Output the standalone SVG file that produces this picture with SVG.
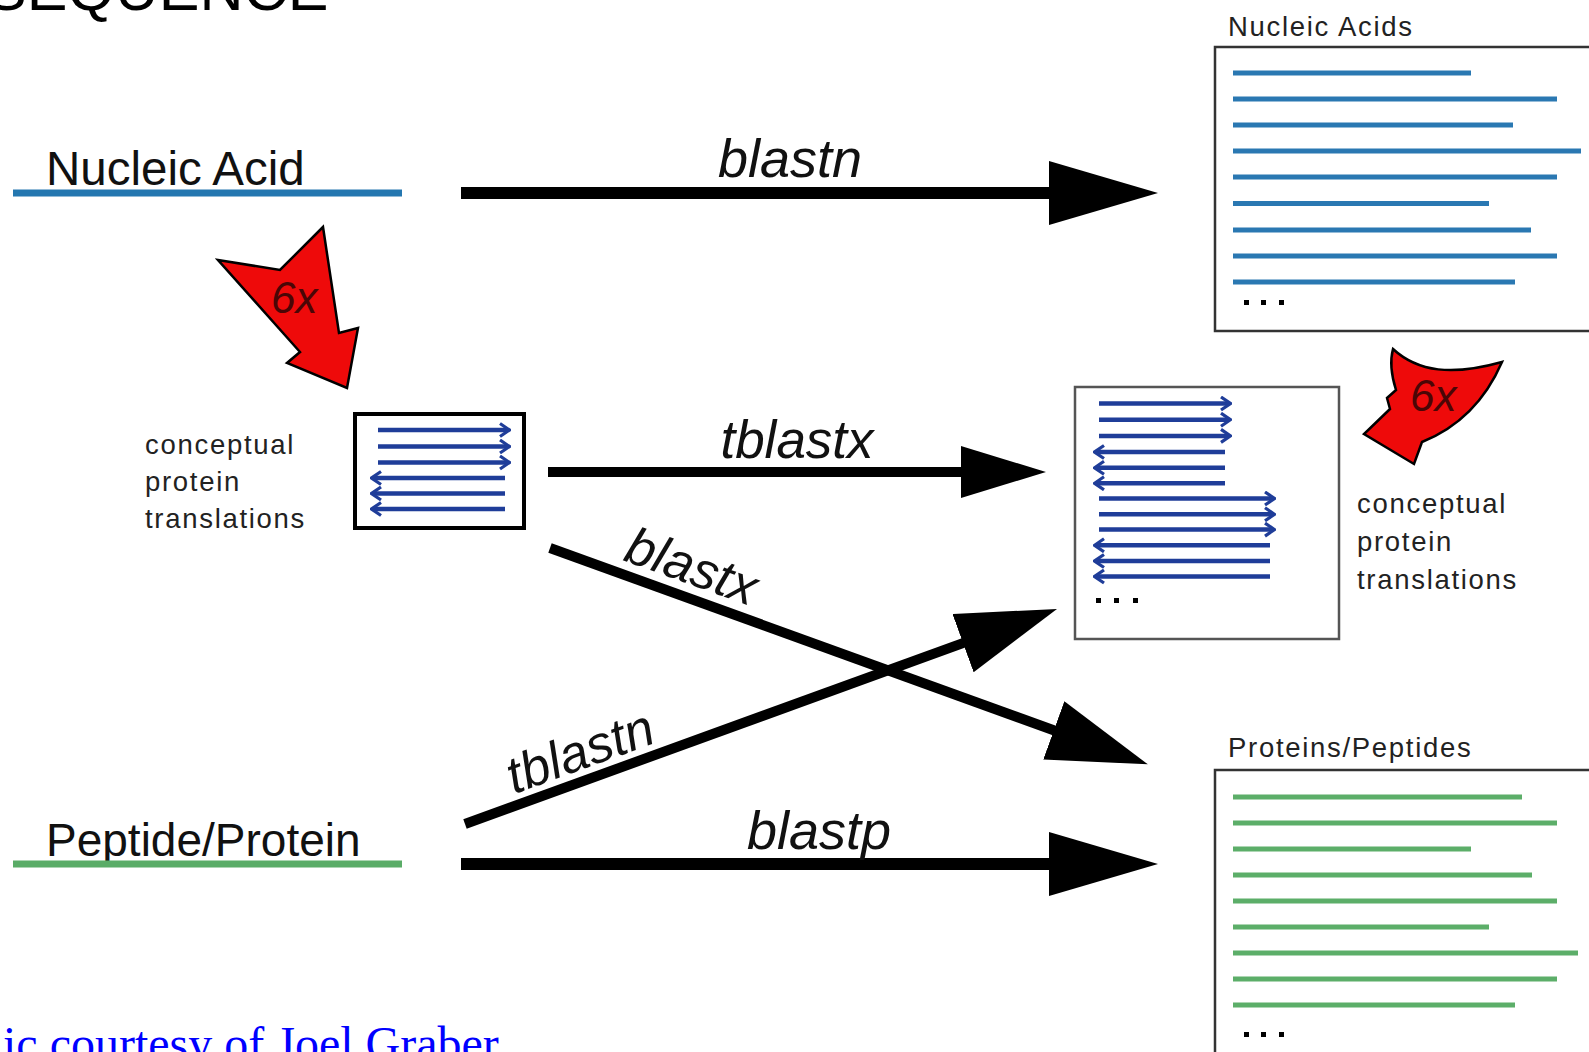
<svg xmlns="http://www.w3.org/2000/svg" width="1589" height="1052" viewBox="0 0 1589 1052">
<defs>
<style>
.big{font-family:"Liberation Sans",Arial,sans-serif;font-size:46px;fill:#111}
.lbl{font-family:"Liberation Sans",Arial,sans-serif;font-style:italic;fill:#111}
.sm{font-family:"Liberation Sans",Arial,sans-serif;font-size:27.5px;letter-spacing:1.7px;fill:#222}
.six{font-family:"Liberation Sans",Arial,sans-serif;font-style:italic;fill:#4a0606}
.conn{stroke:#000;fill:none;stroke-linecap:butt}
.na{stroke:#2a78b2;stroke-width:5}
.pp{stroke:#5cae69;stroke-width:5}
.tr{stroke:#1f3d99;stroke-width:4.5;marker-end:url(#chev)}
.red{fill:#ee0a0a;stroke:#000;stroke-width:2.5;stroke-linejoin:miter}
.dot{fill:#000}
</style>
<marker id="headL" viewBox="0 0 109 64" refX="5" refY="32" markerWidth="109" markerHeight="64" markerUnits="userSpaceOnUse" orient="auto">
<path d="M0,0 L109,32 L0,64 Z" fill="#000"/>
</marker>
<marker id="headM" viewBox="0 0 100 62" refX="5" refY="31" markerWidth="100" markerHeight="62" markerUnits="userSpaceOnUse" orient="auto">
<path d="M0,0 L100,31 L0,62 Z" fill="#000"/>
</marker>
<marker id="headS" viewBox="0 0 85 52" refX="5" refY="26" markerWidth="85" markerHeight="52" markerUnits="userSpaceOnUse" orient="auto">
<path d="M0,0 L85,26 L0,52 Z" fill="#000"/>
</marker>
<marker id="chev" viewBox="0 0 12 16" refX="9" refY="8" markerWidth="12" markerHeight="16" markerUnits="userSpaceOnUse" orient="auto">
<path d="M1,1.5 L10.5,8 L1,14.5" fill="none" stroke="#1f3d99" stroke-width="3.2"/>
</marker>
</defs>
<rect width="1589" height="1052" fill="#fff"/>

<text x="-14" y="10" font-family="Liberation Sans,Arial,sans-serif" font-size="61" fill="#000">SEQUENCE</text>

<g id="nucleic-acid">
<text class="big" x="46" y="185" font-size="47.5" style="font-size:47.5px">Nucleic Acid</text>
<line x1="13" y1="193" x2="402" y2="193" stroke="#2477b0" stroke-width="7"/>
</g>

<g id="peptide-protein">
<text class="big" x="46" y="856">Peptide/Protein</text>
<line x1="13" y1="864" x2="402" y2="864" stroke="#5aac67" stroke-width="7"/>
</g>

<g id="red-arrow-left">
<path class="red" d="M218,260 L280,270 L323,227 L339,333 L358,328 L347,388 L287,363 L300,352 Z"/>
<text class="six" x="271" y="313" font-size="44">6x</text>
</g>

<g id="translations-left">
<rect x="355" y="414" width="169" height="114" fill="#fff" stroke="#000" stroke-width="4"/>
<line class="tr" x1="378" y1="430" x2="508" y2="430"/>
<line class="tr" x1="378" y1="446.5" x2="508" y2="446.5"/>
<line class="tr" x1="378" y1="462.5" x2="508" y2="462.5"/>
<line class="tr" x1="505" y1="478" x2="373" y2="478"/>
<line class="tr" x1="505" y1="493.5" x2="373" y2="493.5"/>
<line class="tr" x1="505" y1="509" x2="373" y2="509"/>
<text class="sm" x="145" y="454">conceptual</text>
<text class="sm" x="145" y="491">protein</text>
<text class="sm" x="145" y="528">translations</text>
</g>

<g id="translations-db">
<rect x="1075" y="387" width="264" height="252" fill="#fff" stroke="#555" stroke-width="2.5"/>
<line class="tr" x1="1099" y1="403.5" x2="1229" y2="403.5"/>
<line class="tr" x1="1099" y1="419.7" x2="1229" y2="419.7"/>
<line class="tr" x1="1099" y1="435.9" x2="1229" y2="435.9"/>
<line class="tr" x1="1225" y1="452" x2="1096" y2="452"/>
<line class="tr" x1="1225" y1="467.8" x2="1096" y2="467.8"/>
<line class="tr" x1="1225" y1="483.3" x2="1096" y2="483.3"/>
<line class="tr" x1="1099" y1="498.5" x2="1273" y2="498.5"/>
<line class="tr" x1="1099" y1="514.3" x2="1273" y2="514.3"/>
<line class="tr" x1="1099" y1="529.6" x2="1273" y2="529.6"/>
<line class="tr" x1="1270" y1="545.3" x2="1096" y2="545.3"/>
<line class="tr" x1="1270" y1="561" x2="1096" y2="561"/>
<line class="tr" x1="1270" y1="576.5" x2="1096" y2="576.5"/>
<rect class="dot" x="1096" y="598" width="5" height="5"/>
<rect class="dot" x="1114" y="598" width="5" height="5"/>
<rect class="dot" x="1133" y="598" width="5" height="5"/>
</g>

<g id="red-arrow-right">
<path class="red" d="M1393,349 C1418,372 1452,376 1502,362 C1482,408 1452,430 1422,442 L1414,464 L1364,434 L1390,409 L1387,398 L1396,390 C1391,374 1390,360 1393,349 Z"/>
<text class="six" x="1410" y="411" font-size="44">6x</text>
<text class="sm" x="1357" y="513">conceptual</text>
<text class="sm" x="1357" y="551">protein</text>
<text class="sm" x="1357" y="589">translations</text>
</g>

<g id="nucleic-acids-db">
<text class="sm" x="1228" y="36">Nucleic Acids</text>
<rect x="1215" y="47" width="420" height="284" fill="#fff" stroke="#333" stroke-width="2.5"/>
<line class="na" x1="1233" y1="73" x2="1471" y2="73"/>
<line class="na" x1="1233" y1="99" x2="1557" y2="99"/>
<line class="na" x1="1233" y1="125" x2="1513" y2="125"/>
<line class="na" x1="1233" y1="151" x2="1581" y2="151"/>
<line class="na" x1="1233" y1="177" x2="1557" y2="177"/>
<line class="na" x1="1233" y1="203.5" x2="1489" y2="203.5"/>
<line class="na" x1="1233" y1="230" x2="1531" y2="230"/>
<line class="na" x1="1233" y1="256" x2="1557" y2="256"/>
<line class="na" x1="1233" y1="282" x2="1515" y2="282"/>
<rect class="dot" x="1244" y="300" width="5" height="5"/>
<rect class="dot" x="1261" y="300" width="5" height="5"/>
<rect class="dot" x="1279" y="300" width="5" height="5"/>
</g>

<g id="proteins-db">
<text class="sm" x="1228" y="757">Proteins/Peptides</text>
<rect x="1215" y="770" width="420" height="400" fill="#fff" stroke="#333" stroke-width="2.5"/>
<line class="pp" x1="1233" y1="797" x2="1522" y2="797"/>
<line class="pp" x1="1233" y1="823" x2="1557" y2="823"/>
<line class="pp" x1="1233" y1="849" x2="1471" y2="849"/>
<line class="pp" x1="1233" y1="875" x2="1532" y2="875"/>
<line class="pp" x1="1233" y1="901" x2="1557" y2="901"/>
<line class="pp" x1="1233" y1="927" x2="1489" y2="927"/>
<line class="pp" x1="1233" y1="953" x2="1578" y2="953"/>
<line class="pp" x1="1233" y1="979" x2="1557" y2="979"/>
<line class="pp" x1="1233" y1="1005" x2="1515" y2="1005"/>
<rect class="dot" x="1244" y="1032" width="5" height="5"/>
<rect class="dot" x="1261" y="1032" width="5" height="5"/>
<rect class="dot" x="1279" y="1032" width="5" height="5"/>
</g>

<g id="connectors">
<line class="conn" x1="461" y1="193" x2="1054" y2="193" stroke-width="12" marker-end="url(#headL)"/>
<line class="conn" x1="548" y1="472" x2="966" y2="472" stroke-width="10" marker-end="url(#headS)"/>
<line class="conn" x1="550" y1="548" x2="1058.5" y2="732" stroke-width="10" marker-end="url(#headM)"/>
<line class="conn" x1="465" y1="824" x2="967.7" y2="641.4" stroke-width="10" marker-end="url(#headM)"/>
<line class="conn" x1="461" y1="864" x2="1054" y2="864" stroke-width="12" marker-end="url(#headL)"/>
<text class="lbl" x="790" y="177" font-size="54" text-anchor="middle">blastn</text>
<text class="lbl" x="797" y="458" font-size="53" text-anchor="middle">tblastx</text>
<text class="lbl" x="686" y="583" font-size="52" text-anchor="middle" transform="rotate(19.7 686 583)">blastx</text>
<text class="lbl" x="586" y="768" font-size="52" text-anchor="middle" transform="rotate(-20 586 768)">tblastn</text>
<text class="lbl" x="819" y="849" font-size="54" text-anchor="middle">blastp</text>
</g>

<text x="3" y="1060" font-family="Liberation Serif,Times New Roman,serif" font-size="48" fill="#0000ff">ic courtesy of Joel Graber</text>
</svg>
